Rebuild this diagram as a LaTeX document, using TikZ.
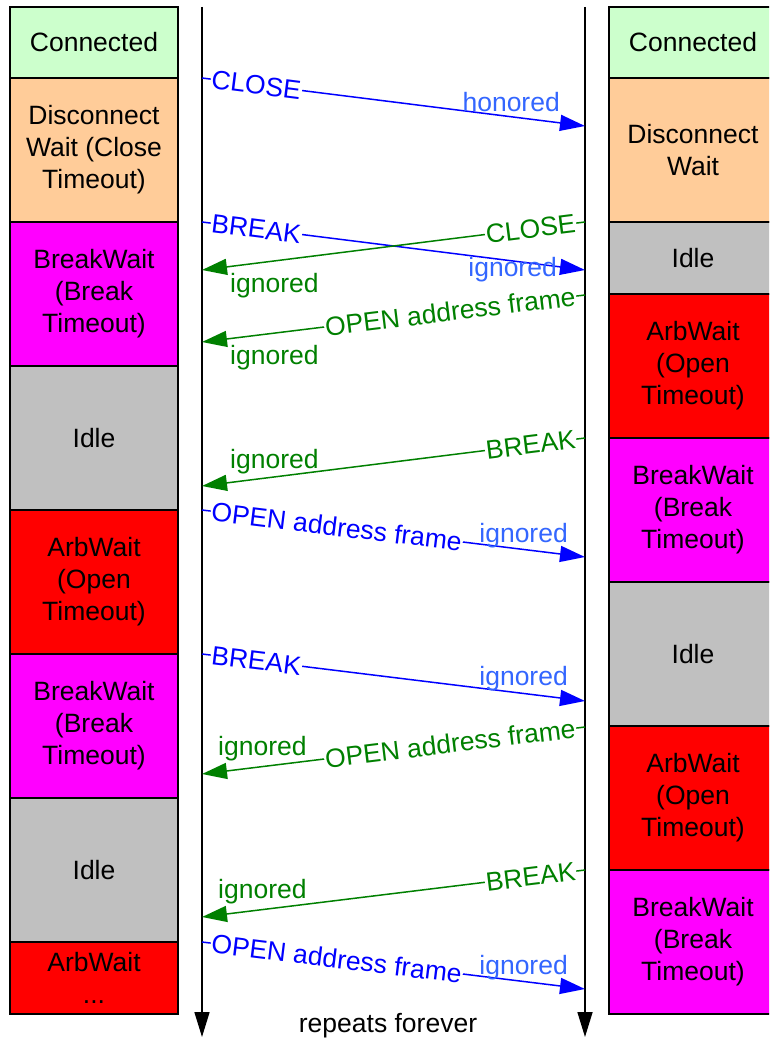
\documentclass[tikz,border=0pt]{standalone}
\usepackage{fontspec}
\setmainfont{Liberation Sans}
\usetikzlibrary{arrows.meta}
\definecolor{cConn}{RGB}{204,255,204}
\definecolor{cDisc}{RGB}{255,204,153}
\definecolor{cBrk}{RGB}{255,0,255}
\definecolor{cIdle}{RGB}{192,192,192}
\definecolor{cArb}{RGB}{255,0,0}
\definecolor{msgblue}{RGB}{0,0,255}
\definecolor{ansblue}{RGB}{51,102,255}
\definecolor{msggreen}{RGB}{0,128,0}
\newcommand\diagfont{\fontsize{26.5}{32}\selectfont}
\tikzset{
  every node/.style={font=\diagfont},
  state/.style={draw=black, line width=1.5pt, minimum width=168pt, inner sep=0pt, align=center},
  short/.style={minimum height=71pt},
  tall/.style={minimum height=144pt},
  life/.style={line width=1.6pt, -{Triangle[length=25pt,width=15pt]}},
  msgR/.style={draw=msgblue, line width=1.5pt, -{Triangle[length=25pt,width=16pt]}},
  msgL/.style={draw=msggreen, line width=1.5pt, -{Triangle[length=25pt,width=16pt]}},
  lblR/.style={fill=white, inner xsep=1pt, inner ysep=1pt, sloped, pos=0.021, anchor=west, text=msgblue},
  lblL/.style={fill=white, inner xsep=1pt, inner ysep=1pt, sloped, pos=0.021, anchor=east, text=msggreen},
  ansR/.style={inner sep=0pt, anchor=base east, text=ansblue},
  ansL/.style={inner sep=0pt, anchor=base west, text=msggreen}
}
\begin{document}
\begin{tikzpicture}[x=1pt,y=-1pt]
\useasboundingbox (0,0) rectangle (769,1041);
\clip (0,0) rectangle (769,1041);
% left column
\node[state, short, fill=cConn] (L1) at (94,42.5) {Connected};
\node[state, tall, fill=cDisc] (L2) at (94,150) {Disconnect\\Wait (Close\\Timeout)};
\node[state, tall, fill=cBrk] (L3) at (94,294) {BreakWait\\(Break\\Timeout)};
\node[state, tall, fill=cIdle] (L4) at (94,438) {Idle};
\node[state, tall, fill=cArb] (L5) at (94,582) {ArbWait\\(Open\\Timeout)};
\node[state, tall, fill=cBrk] (L6) at (94,726) {BreakWait\\(Break\\Timeout)};
\node[state, tall, fill=cIdle] (L7) at (94,870) {Idle};
\node[state, minimum height=72pt, fill=cArb] (L8) at (94,978) {ArbWait\\...};
% right column
\node[state, short, fill=cConn] (R1) at (693,42.5) {Connected};
\node[state, tall, fill=cDisc] (R2) at (693,150) {Disconnect\\Wait};
\node[state, minimum height=72pt, fill=cIdle] (R3) at (693,258) {Idle};
\node[state, tall, fill=cArb] (R4) at (693,366) {ArbWait\\(Open\\Timeout)};
\node[state, tall, fill=cBrk] (R5) at (693,510) {BreakWait\\(Break\\Timeout)};
\node[state, tall, fill=cIdle] (R6) at (693,654) {Idle};
\node[state, tall, fill=cArb] (R7) at (693,798) {ArbWait\\(Open\\Timeout)};
\node[state, tall, fill=cBrk] (R8) at (693,942) {BreakWait\\(Break\\Timeout)};
% lifelines
\coordinate (lt) at (202,7);
\coordinate (lb) at (202,1037);
\coordinate (rt) at (585,7);
\coordinate (rb) at (585,1037);
\draw[life] (lt) -- (lb);
\draw[life] (rt) -- (rb);
\node[anchor=base] (rep) at (388,1032) {repeats forever};
% message end points
\coordinate (a1) at (202,78);  \coordinate (b1) at (585,126);
\coordinate (a2) at (202,222); \coordinate (b2) at (585,270);
\coordinate (a3) at (585,222); \coordinate (b3) at (202,270);
\coordinate (a4) at (585,295); \coordinate (b4) at (202,342);
\coordinate (a5) at (585,438); \coordinate (b5) at (202,486);
\coordinate (a6) at (202,510); \coordinate (b6) at (585,557);
\coordinate (a7) at (202,654); \coordinate (b7) at (585,701);
\coordinate (a8) at (585,727); \coordinate (b8) at (202,774);
\coordinate (a9) at (585,870); \coordinate (b9) at (202,917);
\coordinate (a10) at (202,942); \coordinate (b10) at (585,989);
% messages
\draw[msgR] (a1) -- node[lblR] (m1) {CLOSE} (b1);
\draw[msgR] (a2) -- node[lblR] (m2) {BREAK} (b2);
\draw[msgL] (a3) -- node[lblL] (m3) {CLOSE} (b3);
\draw[msgL] (a4) -- node[lblL] (m4) {OPEN address frame} (b4);
\draw[msgL] (a5) -- node[lblL] (m5) {BREAK} (b5);
\draw[msgR] (a6) -- node[lblR] (m6) {OPEN address frame} (b6);
\draw[msgR] (a7) -- node[lblR] (m7) {BREAK} (b7);
\draw[msgL] (a8) -- node[lblL] (m8) {OPEN address frame} (b8);
\draw[msgL] (a9) -- node[lblL] (m9) {BREAK} (b9);
\draw[msgR] (a10) -- node[lblR] (m10) {OPEN address frame} (b10);
% responses
\node[ansR] (r1) at (560,111) {honored};
\node[ansR] (r2) at (557,276) {ignored};
\node[ansL] (r3) at (230,292) {ignored};
\node[ansL] (r4) at (230,364) {ignored};
\node[ansL] (r5) at (230,468) {ignored};
\node[ansR] (r6) at (568,542) {ignored};
\node[ansR] (r7) at (568,685) {ignored};
\node[ansL] (r8) at (218,755) {ignored};
\node[ansL] (r9) at (218,898) {ignored};
\node[ansR] (r10) at (568,974) {ignored};
\end{tikzpicture}
\end{document}
